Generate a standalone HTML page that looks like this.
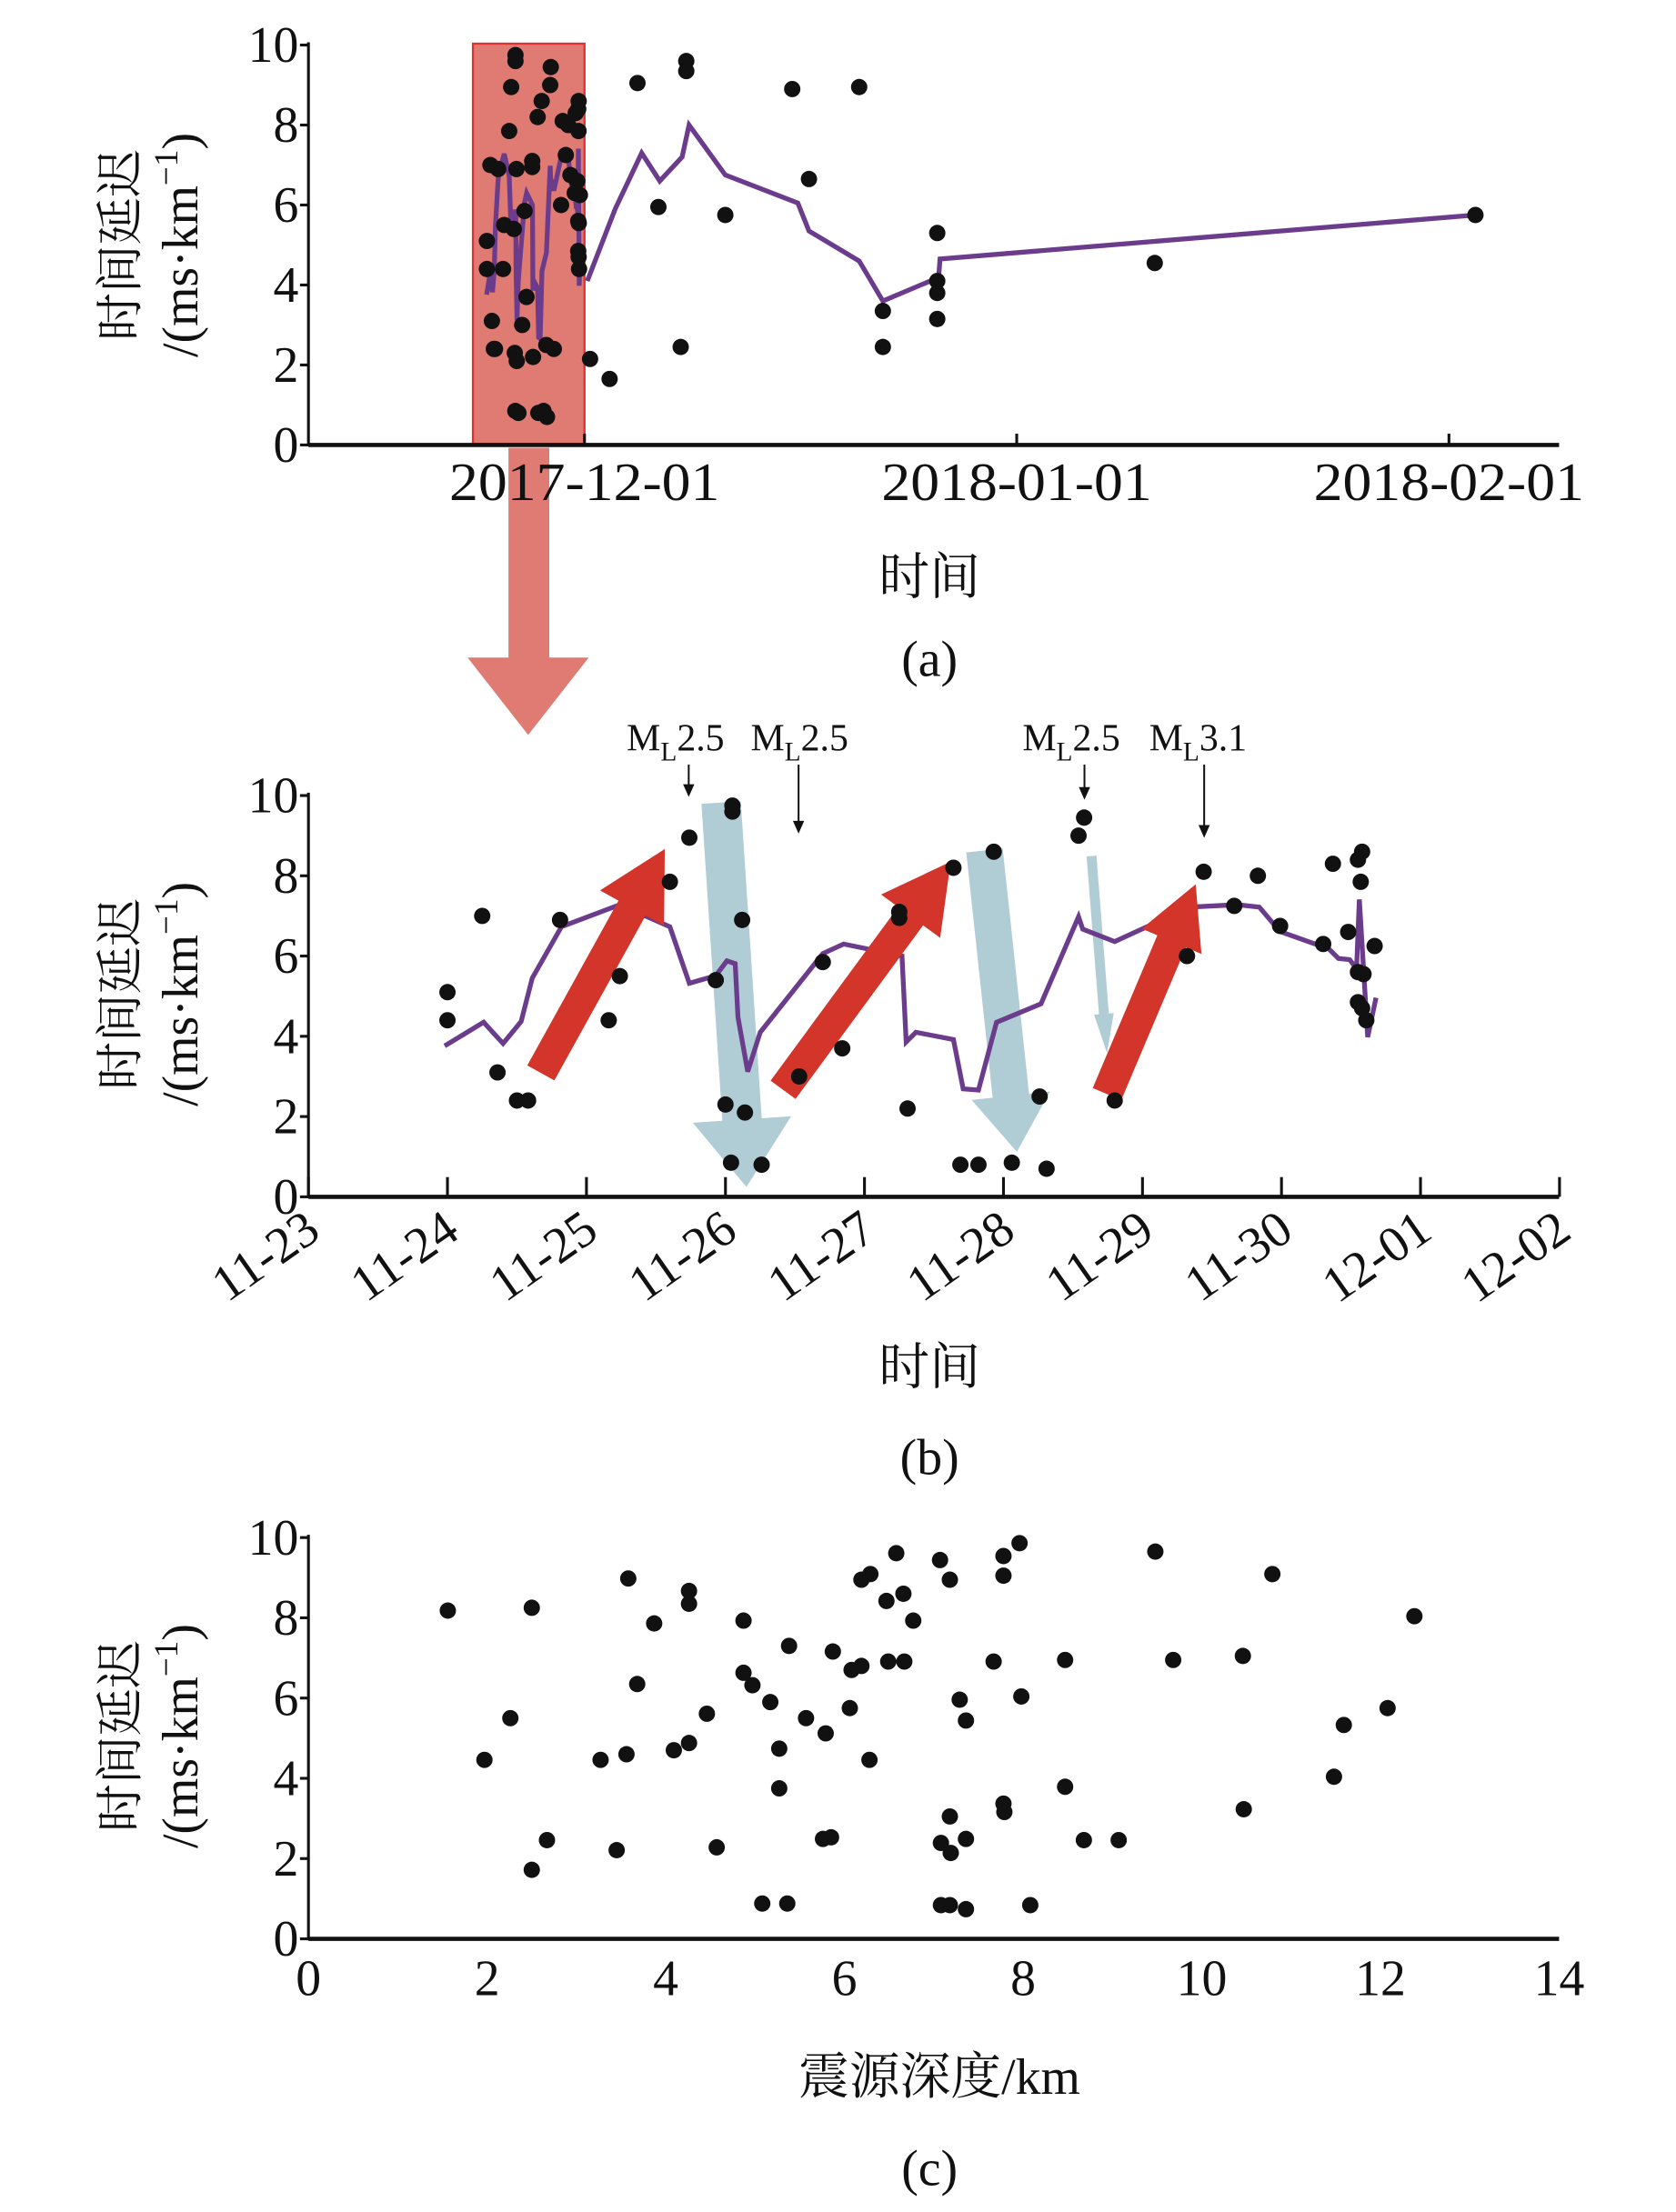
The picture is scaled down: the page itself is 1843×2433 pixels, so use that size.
<!DOCTYPE html>
<html><head><meta charset="utf-8">
<style>
html,body{margin:0;padding:0;background:#fff;}
svg{display:block;}
text{font-family:"Liberation Serif","Noto Serif CJK SC","Noto Sans CJK SC",serif;fill:#111;}
</style></head>
<body>
<svg id="fig" width="1843" height="2433" viewBox="0 0 1190 1571" xmlns="http://www.w3.org/2000/svg"></svg>
<script>
// ---------- data ----------
// panel (b): days since 2017-11-23, values ms/km
const bPtDays = [1.0,1.0,1.25,1.36,1.5,1.58,1.81,2.16,2.24,2.6,2.74,2.93,3.0,3.04,3.05,3.05,3.12,3.14,3.26,3.53,3.7,3.84,4.25,4.25,4.31,4.64,4.69,4.82,4.93,5.06,5.26,5.31,5.54,5.58,5.8,6.32,6.44,6.66,6.83,6.99,7.3,7.37,7.48,7.55,7.57,7.58,7.55,7.59,7.55,7.58,7.61,7.67];
const bPtVals = [5.1,4.4,7.0,3.1,2.4,2.4,6.9,4.4,5.5,7.85,8.95,5.4,2.3,0.85,9.75,9.6,6.9,2.1,0.8,3.0,5.85,3.7,6.95,7.1,2.2,8.2,0.8,0.8,8.6,0.85,2.5,0.7,9.0,9.45,2.4,6.0,8.1,7.25,8.0,6.75,6.3,8.3,6.6,8.4,7.85,8.6,5.6,5.55,4.85,4.7,4.4,6.25];
const bLineDays = [0.98,1.26,1.40,1.53,1.61,1.82,2.24,2.60,2.74,2.93,3.01,3.07,3.09,3.16,3.25,3.70,3.85,4.27,4.30,4.37,4.64,4.71,4.82,4.95,5.27,5.54,5.57,5.80,6.34,6.68,6.84,6.99,7.34,7.41,7.49,7.54,7.56,7.62,7.68];
const bLineVals = [3.76,4.35,3.82,4.37,5.45,6.73,7.28,6.73,5.32,5.51,5.88,5.81,4.47,3.12,4.10,6.06,6.30,6.00,3.86,4.10,3.92,2.69,2.66,4.35,4.81,6.98,6.67,6.36,7.22,7.28,7.22,6.61,6.18,5.94,5.91,5.69,7.41,3.98,4.96];
const bTickLabels = ["11-23","11-24","11-25","11-26","11-27","11-28","11-29","11-30","12-01","12-02"];
// panel (a): extra points, days since 2017-12-01
const aPtDays = [0.4,1.8,3.8,5.3,6.9,7.3,7.3,10.1,14.9,16.1,19.7,21.4,21.4,25.3,25.3,25.3,25.3,40.9,63.9];
const aPtVals = [2.15,1.65,9.05,5.95,2.45,9.6,9.35,5.75,8.9,6.65,8.95,3.35,2.45,5.3,4.1,3.8,3.15,4.55,5.75];
const aLineDays = [0.2,2.2,4.1,5.4,7.0,7.5,10.1,15.3,16.1,19.7,21.4,24.8,25.4,25.5,63.9];
const aLineVals = [4.1,5.9,7.3,6.6,7.2,8.0,6.75,6.05,5.35,4.6,3.6,4.1,4.2,4.65,5.75];
const aTickDays = [0,31,62];
const aTickLabels = ["2017-12-01","2018-01-01","2018-02-01"];
// panel (c): depth km vs delay
const cDepth = [1.56,1.97,2.26,2.5,2.5,2.67,3.27,3.45,3.56,3.58,3.68,3.87,4.09,4.26,4.26,4.26,4.46,4.57,4.87,4.87,4.97,5.08,5.17,5.27,5.27,5.36,5.38,5.57,5.76,5.85,5.79,5.87,6.06,6.08,6.19,6.19,6.28,6.29,6.47,6.49,6.58,6.66,6.67,6.77,7.07,7.08,7.08,7.18,7.18,7.18,7.19,7.29,7.36,7.36,7.36,7.67,7.78,7.78,7.78,7.79,7.96,7.98,8.08,8.47,8.47,8.68,9.07,9.48,9.68,10.46,10.47,10.79,11.48,11.59,12.08,12.38];
const cVals = [8.18,4.46,5.5,8.25,1.72,2.46,4.46,2.21,4.6,8.98,6.35,7.86,4.7,8.67,8.35,4.88,5.61,2.28,7.93,6.63,6.32,0.88,5.9,4.74,3.75,0.88,7.3,5.5,2.49,2.53,5.12,7.16,5.75,6.7,6.8,8.95,4.46,9.09,8.42,6.91,9.61,8.6,6.91,7.93,9.44,2.39,0.84,8.95,3.05,0.84,2.14,5.96,0.74,2.49,5.44,6.91,9.54,9.05,3.37,3.16,9.86,6.04,0.84,6.95,3.79,2.46,2.46,9.65,6.95,7.05,3.23,9.09,4.04,5.33,5.75,8.04];
const cTicks = [0,2,4,6,8,10,12,14];
const yTicks = [0,2,4,6,8,10];

const NS="http://www.w3.org/2000/svg";
const svg=document.getElementById('fig');
function el(tag,attrs,parent){const e=document.createElementNS(NS,tag);for(const k in attrs)e.setAttribute(k,attrs[k]);(parent||svg).appendChild(e);return e;}
function txt(s,attrs,parent){const t=el('text',attrs,parent);t.textContent=s;return t;}

// ---------- axes functions ----------
const aX=d=>415+d*9.9, aY=v=>316-v*28.4;
const bX=d=>219+d*98.7, bY=v=>850-v*28.5;
const cX=d=>219+d*63.43, cY=v=>1377-v*28.5;

function yAxis(g,yf,top,bottom){
  const ax=el('line',{x1:219,y1:top,x2:219,y2:bottom,stroke:'#111','stroke-width':2},g);
  
  
  yTicks.forEach(v=>{
    const tk=el('line',{x1:213,y1:yf(v),x2:219,y2:yf(v),stroke:'#111','stroke-width':2},g);
    
    
    const t=txt(String(v),{x:212,y:yf(v)+12,'text-anchor':'end','font-size':36},g);
    
    
  });
}
function yTitle(g,cy){
  const t1=txt('时间延迟',{x:0,y:0,'text-anchor':'middle','font-size':34,transform:`translate(97,${cy}) rotate(-90)`},g);
  
  
  const t2=el('text',{x:0,y:0,'text-anchor':'middle','font-size':36,transform:`translate(140,${cy}) rotate(-90)`},g);
  
  
  t2.innerHTML='/(ms·km<tspan dy="-14" font-size="24">−1</tspan><tspan dy="14">)</tspan>';
}
function dots(g,xs,ys,xf,yf,name){
  xs.forEach((d,i)=>{
    const c=el('circle',{cx:xf(d),cy:yf(ys[i]),r:5.8,fill:'#111'},g);
    
    
  });
}
function polyline(g,xs,ys,xf,yf,name){
  const p=el('polyline',{points:xs.map((d,i)=>xf(d)+','+yf(ys[i])).join(' '),fill:'none',stroke:'#6b3b8c','stroke-width':3.4,'stroke-linejoin':'miter'},g);
  
  
}
function arrow(g,x1,y1,x2,y2,bw,hw,hl,color,name){
  const dx=x2-x1,dy=y2-y1,L=Math.hypot(dx,dy),ux=dx/L,uy=dy/L,nx=-uy,ny=ux;
  const bx=x2-ux*hl,by=y2-uy*hl;
  const pts=[[x1+nx*bw/2,y1+ny*bw/2],[bx+nx*bw/2,by+ny*bw/2],[bx+nx*hw/2,by+ny*hw/2],[x2,y2],[bx-nx*hw/2,by-ny*hw/2],[bx-nx*bw/2,by-ny*bw/2],[x1-nx*bw/2,y1-ny*bw/2]];
  const p=el('polygon',{points:pts.map(p=>p.join(',')).join(' '),fill:color},g);
  
  
}

// big pink arrow (drawn first, below text)
const pa=el('polygon',{points:'361,318 390,318 390,467 418,467 375,522 332,467 361,467',fill:'#e07b74'});



// ---------- panel a ----------
const ga=el('g',{});


const rect=el('rect',{x:aX(-8),y:31,width:aX(0)-aX(-8),height:285,fill:'#e07b74',stroke:'#e03030','stroke-width':1.5},ga);


yAxis(ga,aY,30,317);
const axA=el('line',{x1:219,y1:316,x2:1107,y2:316,stroke:'#111','stroke-width':3},ga);


aTickDays.forEach((d,i)=>{
  const tk=el('line',{x1:aX(d),y1:308,x2:aX(d),y2:316,stroke:'#111','stroke-width':2},ga);
  
  
  const t=txt(aTickLabels[i],{x:aX(d),y:355,'text-anchor':'middle','font-size':38,textLength:192,lengthAdjust:'spacingAndGlyphs'},ga);
  
  
});
polyline(ga,bLineDays.map(d=>d-8),bLineVals,aX,aY,'trend-line-zoomed');
polyline(ga,aLineDays,aLineVals,aX,aY,'trend-line');
dots(ga,bPtDays.map(d=>d-8),bPtVals,aX,aY,'data-point');
dots(ga,aPtDays,aPtVals,aX,aY,'data-point');
yTitle(ga,174);
let t=txt('时间',{x:660,y:422,'text-anchor':'middle','font-size':36},ga);


t=txt('(a)',{x:660,y:480,'text-anchor':'middle','font-size':36},ga);



// ---------- panel b ----------
const gb=el('g',{});


yAxis(gb,bY,563,851);
const axB=el('line',{x1:219,y1:850,x2:1107,y2:850,stroke:'#111','stroke-width':3},gb);


bTickLabels.forEach((lab,i)=>{
  const tk=el('line',{x1:bX(i),y1:836,x2:bX(i),y2:850,stroke:'#111','stroke-width':2},gb);
  
  
  const tl=txt(lab,{x:0,y:0,'text-anchor':'end','font-size':36,transform:`translate(${bX(i)+10},${878}) rotate(-35)`},gb);
  
  
});
// blue arrows
arrow(gb,512,570,530,843,28,70,48,'#b0ccd4','decrease-arrow');
arrow(gb,699,604,722,818,26,56,40,'#b0ccd4','decrease-arrow');
arrow(gb,775,608,786,748,7,14,28,'#b0ccd4','decrease-arrow');
polyline(gb,bLineDays,bLineVals,bX,bY,'trend-line');
// red arrows
arrow(gb,384,762,472,603,22,52,48,'#d3352b','increase-arrow');
arrow(gb,556,774,675,612,22,52,48,'#d3352b','increase-arrow');
arrow(gb,786,777,849,628,22,46,44,'#d3352b','increase-arrow');
dots(gb,bPtDays,bPtVals,bX,bY,'data-point');
// earthquake markers
const eqX=[489,567,770,855], eqLab=['2.5','2.5','2.5','3.1'], eqTextX=[445,533,726,816], eqEnd=[566,592,568,595];
eqX.forEach((x,i)=>{
  const ln=el('line',{x1:x,y1:543,x2:x,y2:eqEnd[i]-6,stroke:'#111','stroke-width':1.3},gb);
  
  
  const hd=el('polygon',{points:`${x-4},${eqEnd[i]-9} ${x+4},${eqEnd[i]-9} ${x},${eqEnd[i]}`,fill:'#111'},gb);
  
  
  const tt=el('text',{x:eqTextX[i],y:533,'font-size':27},gb);
  
  
  tt.innerHTML='M<tspan dy="7" font-size="19">L</tspan><tspan dy="-7">'+eqLab[i]+'</tspan>';
});
yTitle(gb,706);
t=txt('时间',{x:660,y:983,'text-anchor':'middle','font-size':36},gb);


t=txt('(b)',{x:660,y:1047,'text-anchor':'middle','font-size':36},gb);



// ---------- panel c ----------
const gc=el('g',{});


yAxis(gc,cY,1090,1378);
const axC=el('line',{x1:219,y1:1377,x2:1107,y2:1377,stroke:'#111','stroke-width':3},gc);


cTicks.forEach(v=>{
  const tl=txt(String(v),{x:cX(v),y:1417,'text-anchor':'middle','font-size':36},gc);
  
  
});
dots(gc,cDepth,cVals,cX,cY,'data-point');
yTitle(gc,1233);
t=txt('震源深度/km',{x:667,y:1487,'text-anchor':'middle','font-size':36},gc);


t=txt('(c)',{x:660,y:1552,'text-anchor':'middle','font-size':36},gc);


</script>
</body></html>
